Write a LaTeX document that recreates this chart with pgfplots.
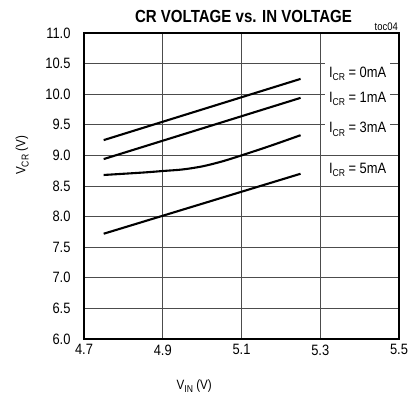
\documentclass[border=0pt]{standalone}
\usepackage{fontspec}
\setmainfont{Liberation Sans}[FakeStretch=0.86]
\usepackage{pgfplots}
\pgfplotsset{compat=1.18}

\newcommand{\sub}[1]{\raisebox{-0.45ex}{\fontsize{10}{10}\selectfont #1}}

\begin{document}
\begin{tikzpicture}
\useasboundingbox (-84pt,-60pt) rectangle (325pt,339pt);
\begin{axis}[
  at={(0,0)}, anchor=south west,
  scale only axis,
  width=315pt, height=306pt,
  xmin=4.7, xmax=5.5, ymin=6, ymax=11,
  xtick={4.7,4.9,5.1,5.3,5.5},
  ytick={6,6.5,...,11},
  /pgf/number format/assume math mode=true,
  /pgf/number format/fixed,
  /pgf/number format/fixed zerofill,
  /pgf/number format/precision=1,
  yticklabel style={xshift=-10pt},
  xticklabel style={yshift=-2pt},
  tick label style={font=\fontsize{15}{15}\selectfont},
  major tick length=0pt,
  grid=major,
  grid style={line width=0.9pt, black!70},
  axis line style={line width=2.6pt},
  clip=false,
]
% one curve per output current
\addplot[black, line width=2.1pt] coordinates {(4.75,9.25) (5.25,10.25)};
\addplot[black, line width=2.1pt] coordinates {(4.75,8.94) (5.25,9.94)};
\addplot[black, line width=2.1pt, smooth] coordinates {
  (4.75,8.68) (4.85,8.72) (4.9,8.745) (4.95,8.77) (5.0,8.82) (5.05,8.90) (5.1,9.0) (5.175,9.16) (5.25,9.33)};
\addplot[black, line width=2.1pt] coordinates {(4.75,7.72) (5.25,8.70)};

% curve labels on white boxes that break the grid lines
\begin{scope}[every node/.style={fill=white, inner xsep=4pt, inner ysep=5pt, font=\fontsize{15}{15}\selectfont}]
\node at (axis cs:5.395,10.33) {I\sub{CR} = 0mA};
\node at (axis cs:5.395,9.92) {I\sub{CR} = 1mA};
\node at (axis cs:5.395,9.43) {I\sub{CR} = 3mA};
\node at (axis cs:5.395,8.76) {I\sub{CR} = 5mA};
\end{scope}

\node[font=\fontsize{17.5}{18}\selectfont\bfseries] at (axis cs:5.105,11.27) {CR VOLTAGE vs. IN VOLTAGE};
\node[font=\fontsize{11}{12}\selectfont, anchor=south east, inner sep=1pt] at (axis cs:5.5,11.02) {toc04};
\node[font=\fontsize{13.5}{14}\selectfont] at (axis cs:4.98,5.23) {V\sub{IN} (V)};
\node[font=\fontsize{13.5}{14}\selectfont, rotate=90] at (axis cs:4.543,9.0) {V\sub{CR} (V)};
\end{axis}
\end{tikzpicture}
\end{document}
